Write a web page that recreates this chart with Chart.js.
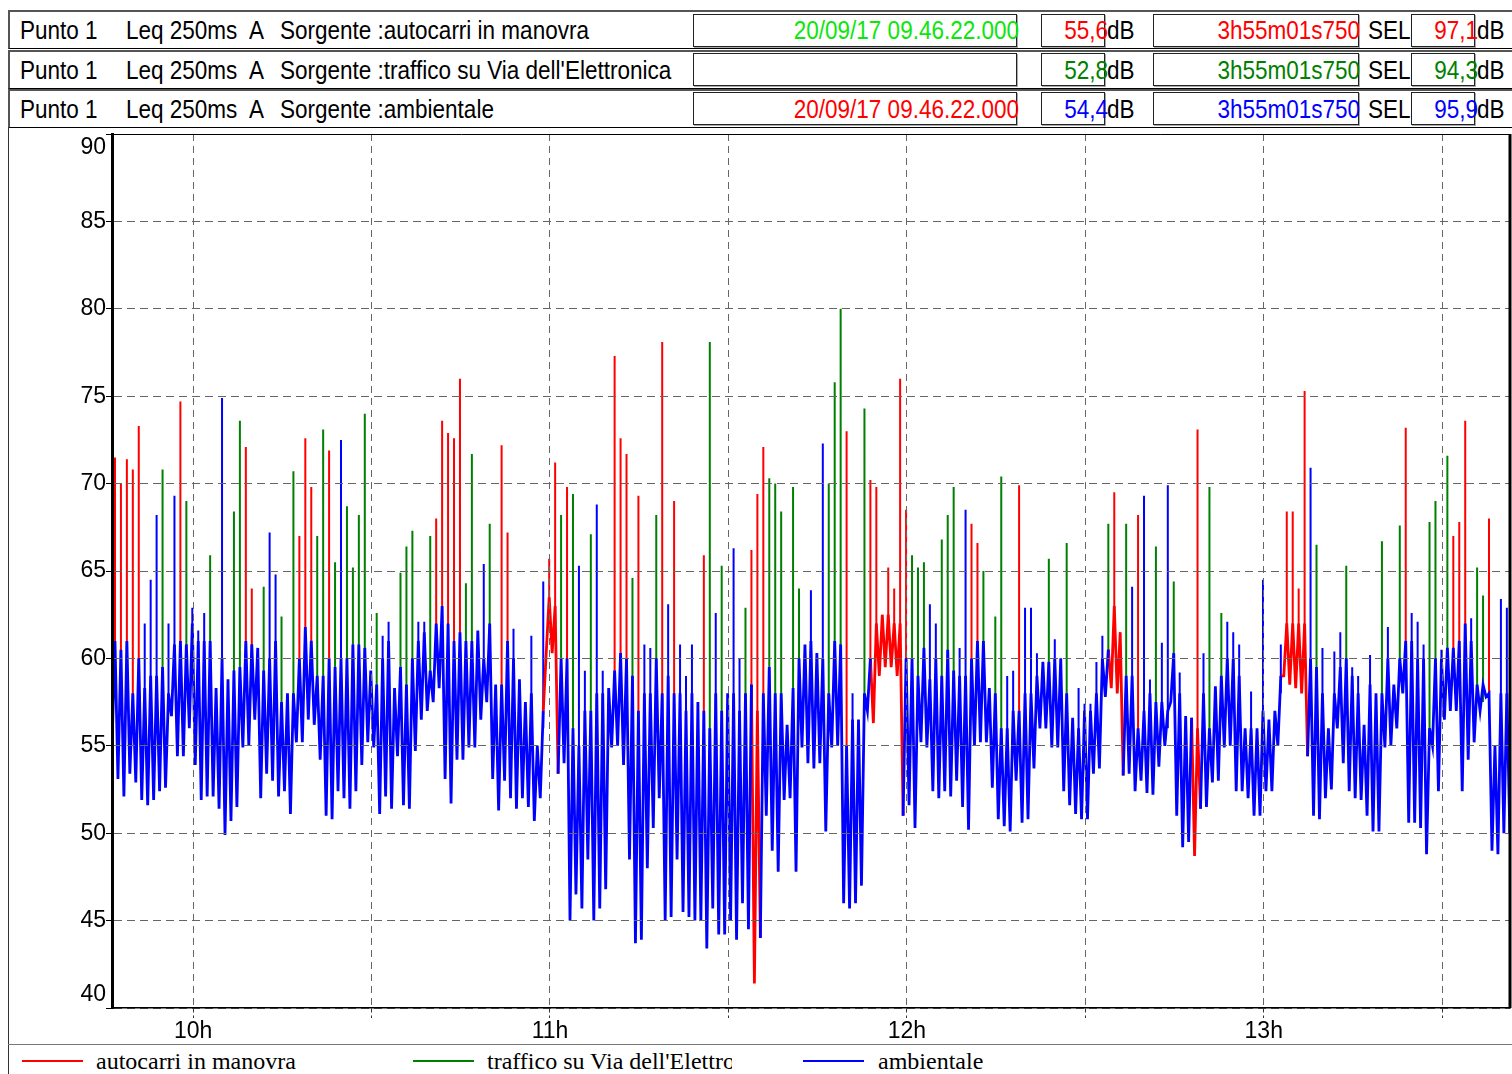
<!DOCTYPE html>
<html lang="it">
<head>
<meta charset="utf-8">
<title>Punto 1 - Leq 250ms A</title>
<script src="https://cdn.jsdelivr.net/npm/chart.js@4.4.1/dist/chart.umd.min.js"></script>
<style>
  html, body { margin: 0; padding: 0; background: #fff; }
  body { width: 1512px; height: 1074px; position: relative; overflow: hidden;
         font-family: "Liberation Sans", Arial, sans-serif; }
  .row { position: absolute; left: 8px; width: 1504px; height: 39px; box-sizing: border-box;
         border-top: 2px solid #555; border-left: 2px solid #555; border-bottom: 1px solid #000; }
  .box { position: absolute; height: 33px; box-sizing: border-box; border: 1px solid #222;
         box-shadow: 1px 1px 0 #aaa; }
  .txt { position: absolute; font-size: 25px; line-height: 28px; white-space: pre; color: #000;
         transform: scaleX(0.9); transform-origin: left center; }
  .r { text-align: right; transform-origin: right center; }
  #plot { position: absolute; left: 8px; top: 128px; width: 1504px; height: 916px; }
  #sideLine { position: absolute; left: 8px; top: 128px; width: 0; height: 946px; border-left: 1px solid #333; }
  #legend { position: absolute; left: 8px; top: 1044px; width: 1504px; height: 30px;
            border-top: 1px solid #777; font-family: "Liberation Serif", "Times New Roman", serif; }
  .key { position: absolute; top: 15px; width: 61px; height: 0; border-top: 2px solid; }
  .lab { position: absolute; top: 2px; font-size: 24px; line-height: 28px; white-space: nowrap; overflow: hidden; }
</style>
</head>
<body>

<!-- header rows -->
<div class="row" style="top:10px"></div>
<div class="row" style="top:50px"></div>
<div class="row" style="top:89px"></div>

<div class="box" style="left:693px; top:14px; width:324px"></div>
<div class="box" style="left:1041px; top:14px; width:64px"></div>
<div class="box" style="left:1153px; top:14px; width:206px"></div>
<div class="box" style="left:1411px; top:14px; width:64px"></div>
<div class="box" style="left:693px; top:53px; width:324px"></div>
<div class="box" style="left:1041px; top:53px; width:64px"></div>
<div class="box" style="left:1153px; top:53px; width:206px"></div>
<div class="box" style="left:1411px; top:53px; width:64px"></div>
<div class="box" style="left:693px; top:92px; width:324px"></div>
<div class="box" style="left:1041px; top:92px; width:64px"></div>
<div class="box" style="left:1153px; top:92px; width:206px"></div>
<div class="box" style="left:1411px; top:92px; width:64px"></div>

<div class="txt" style="left:20px; top:16px">Punto 1</div>
<div class="txt" style="left:126px; top:16px">Leq 250ms</div>
<div class="txt" style="left:249px; top:16px">A</div>
<div class="txt" style="left:280px; top:16px">Sorgente :autocarri in manovra</div>
<div class="txt r" style="left:719px; width:300px; top:16px; color:#0be60b">20/09/17 09.46.22.000</div>
<div class="txt r" style="left:1008px; width:100px; top:16px; color:#ff0000">55,6</div>
<div class="txt" style="left:1107px; top:16px">dB</div>
<div class="txt r" style="left:1160px; width:200px; top:16px; color:#ff0000">3h55m01s750</div>
<div class="txt" style="left:1368px; top:16px">SEL</div>
<div class="txt r" style="left:1378px; width:100px; top:16px; color:#ff0000">97,1</div>
<div class="txt" style="left:1477px; top:16px">dB</div>

<div class="txt" style="left:20px; top:56px">Punto 1</div>
<div class="txt" style="left:126px; top:56px">Leq 250ms</div>
<div class="txt" style="left:249px; top:56px">A</div>
<div class="txt" style="left:280px; top:56px">Sorgente :traffico su Via dell'Elettronica</div>
<div class="txt r" style="left:1008px; width:100px; top:56px; color:#008000">52,8</div>
<div class="txt" style="left:1107px; top:56px">dB</div>
<div class="txt r" style="left:1160px; width:200px; top:56px; color:#008000">3h55m01s750</div>
<div class="txt" style="left:1368px; top:56px">SEL</div>
<div class="txt r" style="left:1378px; width:100px; top:56px; color:#008000">94,3</div>
<div class="txt" style="left:1477px; top:56px">dB</div>

<div class="txt" style="left:20px; top:95px">Punto 1</div>
<div class="txt" style="left:126px; top:95px">Leq 250ms</div>
<div class="txt" style="left:249px; top:95px">A</div>
<div class="txt" style="left:280px; top:95px">Sorgente :ambientale</div>
<div class="txt r" style="left:719px; width:300px; top:95px; color:#ff0000">20/09/17 09.46.22.000</div>
<div class="txt r" style="left:1008px; width:100px; top:95px; color:#0000ff">54,4</div>
<div class="txt" style="left:1107px; top:95px">dB</div>
<div class="txt r" style="left:1160px; width:200px; top:95px; color:#0000ff">3h55m01s750</div>
<div class="txt" style="left:1368px; top:95px">SEL</div>
<div class="txt r" style="left:1378px; width:100px; top:95px; color:#0000ff">95,9</div>
<div class="txt" style="left:1477px; top:95px">dB</div>

<div id="sideLine"></div>
<div id="plot"><canvas id="levelChart"></canvas></div>

<div id="legend">
  <div class="key" style="left:14px; border-color:#ff0000"></div>
  <div class="lab" style="left:88px">autocarri in manovra</div>
  <div class="key" style="left:405px; border-color:#008000"></div>
  <div class="lab" style="left:479px; width:245px">traffico su Via dell'Elettronica</div>
  <div class="key" style="left:795px; border-color:#0000ff"></div>
  <div class="lab" style="left:870px">ambientale</div>
</div>

<script>
// Leq 250ms read per minute from 09:46:22: lowest value, top of the dense band, and the peak
const bandLow = [
  55, 53.1, 52.1, 53.4, 52.9, 51.9, 51.6, 51.9, 52.4, 52.6,
  56.7, 54.4, 54.4, 56, 53.9, 51.9, 52.1, 52.1, 51.4, 49.9,
  50.7, 51.5, 54.9, 55, 56.5, 52, 53.4, 53, 52.1, 52.4,
  51.1, 55.2, 55.2, 56.5,
  56.2, 54.2, 51, 50.8, 52.4, 52, 51.4, 52.4, 53.9, 55.2,
  54.9, 51.1, 52.1, 51.4, 54.4, 51.6, 51.4, 54.7, 56.5, 57,
  57.5, 58.3, 53.1, 51.7, 54.2, 54.2, 54.9, 54.9, 56.5, 57.5,
  53.1, 51.3, 53,
  52, 51.4, 52, 51.5, 50.7, 52, 60.3, 60.3, 53.4, 54,
  45, 46.5, 45.7, 48.5, 45, 45.7, 46.8, 54.9, 55, 53.9,
  48.5, 43.7, 43.9, 48, 50.3, 52, 45, 45.2, 48.5, 45.5,
  45.2, 45, 45, 43.4,
  45.7, 44.2, 44.2, 45, 43.9, 46, 44.5, 41.4, 44, 51,
  49, 47.8, 51.9, 52, 47.8, 54.9, 54, 53.7, 54, 50.1,
  54.9, 55, 46, 45.7, 46, 47, 57, 56.3, 59, 59.5,
  59.5, 59, 51, 51.6,
  50.3, 55.2, 54.9, 52.4, 52, 52.4, 52.1, 53, 51.5, 50.2,
  55, 55.2, 55.2, 52.6, 50.8, 50.4, 50.1, 53, 50.6, 50.8,
  53.7, 56, 56, 54.9, 54.9, 52.4, 51.6, 51.1, 50.8, 50.8,
  53.4, 53.7, 57.8,
  58.3, 58, 53.3, 53.4, 52.4, 53, 52.3, 52.2, 53.8, 55,
  57.5, 51, 49.2, 49.5, 48.7, 51.4, 51.5, 52.9, 53, 54.9,
  55, 52.4, 52.4, 52, 51, 51, 52.4, 52.4, 55, 59,
  58.5, 58.3, 58, 54.4,
  51, 50.8, 52, 52.5, 56, 54, 52.4, 52, 51.9, 51,
  50.1, 50.1, 54.9, 55, 56, 58, 50.6, 50.6, 50.3, 48.8,
  55, 52.4, 56.5, 57, 57, 52.4, 54.2, 55.2, 57, 57.8,
  49, 48.8, 50, 50
];

const bandTop = [
  61, 60.5, 61, 58, 60, 58.3, 59, 59, 59.5, 58,
  60.8, 61, 60.8, 62, 61, 61, 61, 58.3, 60, 58.8,
  59.3, 59.5, 61, 60.8, 60.6, 59.3, 60, 61, 57.5, 58,
  58, 60, 61.8, 61,
  59, 59, 60, 59.5, 60, 60, 60.8, 60.8, 60.6, 59.3,
  58.5, 60, 61, 58.3, 59.5, 58.5, 60, 61, 61.5, 59.3,
  62, 63, 62, 61, 61.5, 61, 61, 61.6, 60, 62,
  58.5, 58.5, 61,
  60, 58.8, 57.5, 58, 55, 57, 63.5, 63, 60, 60,
  56, 55, 57, 57, 58, 58, 58.3, 59.3, 60.3, 60,
  59, 57, 58, 58, 60, 58, 59, 58, 58, 57,
  58, 57.5, 57, 56,
  58, 57, 58, 58, 57, 58, 58.5, 57, 58, 59.5,
  58, 58, 56.2, 58.3, 60, 60.8, 61, 60.3, 60, 58,
  61, 60.8, 55, 56.5, 56.5, 58, 60, 62, 62.5, 62.5,
  62, 62, 60, 60,
  59, 60.6, 58.8, 60, 59, 60.5, 59.3, 59, 59, 60,
  61, 61, 58.3, 58, 56, 56, 57, 57, 58, 58,
  59, 59.8, 59.8, 60, 60, 58, 56.6, 56, 57, 57,
  58, 60, 60.5,
  63, 61.5, 59, 59, 56, 57, 58, 57.5, 57.5, 57,
  60.3, 58, 56.7, 56.6, 56, 58, 56, 58.4, 59, 60,
  60, 59, 56, 56, 56, 57, 56.5, 57, 59, 62,
  62, 62, 62, 60,
  59.5, 58, 56, 58, 59.5, 60, 59, 58, 56.2, 58.5,
  58, 58, 60, 58.5, 60, 61, 61, 60, 60, 56,
  60, 60, 60.6, 60.6, 61, 62, 61, 58.5, 58.5, 58,
  55, 58, 58, 59
];

const peakLevel = [
  71.5, 70, 71.4, 70.8, 73.3, 62, 64.5, 68.2, 70.8, 62,
  69.3, 74.7, 69, 62.9, 61.6, 62.6, 65.9, 58.3, 74.9, 58.8,
  68.4, 73.6, 72.1, 64, 60.6, 64.1, 67.2, 64.8, 62.4, 58,
  70.7, 67, 72.6, 69.8,
  67, 73.1, 71.9, 65.5, 72.5, 68.7, 65.2, 68.2, 74, 59.3,
  62.6, 61.3, 62.1, 58.3, 64.9, 66.4, 67.3, 62.1, 62.1, 67,
  68, 73.6, 72.9, 72.6, 76, 64.3, 71.7, 61.6, 65.4, 67.7,
  58.5, 72.2, 67.2,
  61.7, 58.8, 57.5, 61.3, 55, 64.4, 65.7, 71.2, 68.2, 69.8,
  69.4, 65.3, 59.3, 67.1, 68.8, 59.3, 58.3, 77.3, 72.6, 71.7,
  64.6, 69.3, 60.8, 60.6, 68.2, 78.1, 63.1, 69, 60.8, 59,
  60.8, 57.5, 65.9, 78.1,
  62.6, 65.3, 58, 66.3, 60, 62.9, 66.2, 69.4, 72.1, 70.3,
  70, 68.4, 56.2, 69.8, 64, 60.8, 63.9, 60.3, 72.3, 70,
  75.8, 80, 73, 58, 56.5, 74.3, 70.2, 69.8, 62.5, 65.2,
  64, 76, 68.5, 65.9,
  65.2, 65.5, 63.1, 62, 66.8, 68.2, 69.8, 60.6, 68.5, 67.7,
  66.6, 65, 58.3, 62.4, 70.4, 59, 59.3, 69.9, 62.9, 62.9,
  60.3, 59.8, 65.7, 61.1, 60, 66.6, 56.6, 58.3, 57.4, 57.4,
  59.8, 61.3, 67.7,
  69.5, 61.5, 67.7, 64.1, 68.2, 69.3, 58.8, 66.4, 60.9, 69.9,
  64.4, 59.2, 56.7, 56.6, 73.1, 60.3, 69.8, 58.4, 62.6, 62.1,
  61.5, 60.8, 56, 58.1, 56, 64.5, 56.5, 57, 60.8, 68.4,
  68.4, 64, 75.3, 70.9,
  66.5, 60.6, 56, 60.4, 61.5, 65.3, 59.5, 59, 56.2, 60.2,
  58, 66.7, 61.8, 58.5, 67.6, 73.2, 62.6, 62.1, 60.8, 67.8,
  69, 60.5, 71.6, 67, 67.8, 73.6, 62.3, 65.2, 63.6, 68,
  55, 63.4, 62.9, 62
];

// source of each minute's peak: b = ambientale, g = traffico, r = autocarri,
// R = whole minute inside an "autocarri in manovra" stretch
const peakSource = (
  'rrrrrbbbgb' + 'brgbbbgbbb' + 'ggrrbgbbgb' + 'grrr' +
  'ggrgbggggb' + 'gbbbgggbbg' + 'rrrrrggbbg' + 'brr' +
  'bbbbbbRRgr' + 'gbbgbbbrrr' + 'grbbgrbrbb' + 'bbrg' +
  'bgbbbgrRrg' + 'ggbggbbbbg' + 'ggrbbgrRRR' + 'RRrg' +
  'ggbbgggbbr' + 'rgbggbbrbb' + 'bbgbbgbbbb' + 'bbg' +
  'RRgbrbbgbb' + 'gbbbRbgbgb' + 'bbbbbbbbbR' + 'RRRb' +
  'gbbbbgbbbb' + 'bgbbgrbbbg' + 'gbgrrrbggr' + 'bbbb'
).split('');

const hourTicks = [10, 10.5, 11, 11.5, 12, 12.5, 13, 13.5];
const levelTicks = [40, 45, 50, 55, 60, 65, 70, 75, 80, 85, 90];

const START_H = 9 + 46 / 60 + 22 / 3600;
const END_H = START_H + (3 * 3600 + 55 * 60 + 1.75) / 3600;
const minuteAt = m => START_H + m / 60;

// dense band: low at the start of the minute, band top half a minute later
function bandSeries(red) {
  const pts = [];
  bandLow.forEach((lo, i) => {
    pts.push({ x: minuteAt(i), y: lo, r: peakSource[i] === 'R' });
    pts.push({ x: minuteAt(i + 0.5), y: bandTop[i], r: peakSource[i] === 'R' });
  });
  return pts.map((p, k) => {
    let keep = p.r === red;
    if (!keep && red) {
      keep = (pts[k - 1] && pts[k - 1].r) || (pts[k + 1] && pts[k + 1].r);
    }
    return { x: p.x, y: keep ? p.y : null };
  });
}

// peaks: a vertical stroke from the band top up to the peak, in the colour of its source
function peakSeries(code) {
  const pts = [];
  peakLevel.forEach((pk, i) => {
    const src = peakSource[i] === 'R' ? 'r' : peakSource[i];
    if (src !== code || pk <= bandTop[i]) return;
    const x = minuteAt(i + 0.5);
    pts.push({ x, y: bandTop[i] - 1 }, { x, y: pk }, { x, y: null });
  });
  return pts;
}

const frame = {
  id: 'frame',
  afterDraw(chart) {
    const { ctx, chartArea: a } = chart;
    ctx.save();
    ctx.strokeStyle = '#000';
    ctx.lineWidth = 1;
    ctx.beginPath();
    ctx.moveTo(a.left, a.top + 0.5);
    ctx.lineTo(a.right, a.top + 0.5);
    ctx.stroke();
    ctx.lineWidth = 3;
    ctx.beginPath();
    ctx.moveTo(a.right, a.top);
    ctx.lineTo(a.right, a.bottom);
    ctx.stroke();
    ctx.restore();
  }
};

const lineStyle = { pointRadius: 0, tension: 0, spanGaps: false, fill: false };

new Chart(document.getElementById('levelChart'), {
  type: 'line',
  data: {
    datasets: [
      { label: 'ambientale', data: bandSeries(false), borderColor: '#0000ff', borderWidth: 2.8, ...lineStyle },
      { label: 'autocarri in manovra', data: bandSeries(true), borderColor: '#ff0000', borderWidth: 2.8, ...lineStyle },
      { label: 'ambientale picchi', data: peakSeries('b'), borderColor: '#0000ff', borderWidth: 2, ...lineStyle },
      { label: "traffico su Via dell'Elettronica", data: peakSeries('g'), borderColor: '#008000', borderWidth: 2, ...lineStyle },
      { label: 'autocarri picchi', data: peakSeries('r'), borderColor: '#ff0000', borderWidth: 2, ...lineStyle }
    ]
  },
  options: {
    responsive: true,
    maintainAspectRatio: false,
    animation: false,
    layout: { padding: { top: 6, right: 2, left: 0, bottom: 0 } },
    plugins: { legend: { display: false }, tooltip: { enabled: false } },
    scales: {
      x: {
        type: 'linear',
        min: START_H,
        max: END_H,
        afterBuildTicks: s => { s.ticks = hourTicks.map(v => ({ value: v })); },
        afterFit: s => { s.height = 36; s.paddingLeft = 0; s.paddingRight = 0; },
        ticks: {
          autoSkip: false,
          maxRotation: 0,
          padding: 0,
          color: '#000',
          font: { family: 'Liberation Sans', size: 23 },
          callback: v => Number.isInteger(v) ? v + 'h' : ''
        },
        grid: { color: '#666', lineWidth: 1, tickLength: 10, tickColor: '#333', tickBorderDash: [4, 3], z: 1 },
        border: { color: '#000', width: 1.5, dash: [7, 5], z: 2 }
      },
      y: {
        min: 40,
        max: 90,
        afterBuildTicks: s => { s.ticks = levelTicks.map(v => ({ value: v })); },
        afterFit: s => { s.width = 104; s.paddingTop = 0; s.paddingBottom = 0; },
        ticks: {
          padding: 0,
          color: '#000',
          font: { family: 'Liberation Sans', size: 23 },
          callback: v => v === 90 ? ['', '90'] : v === 40 ? ['40', ''] : String(v)
        },
        grid: { color: '#666', lineWidth: 1, tickLength: 6, tickColor: '#000', z: 1 },
        border: { color: '#000', width: 3, dash: [8, 5], z: 2 }
      }
    }
  },
  plugins: [frame]
});
</script>
</body>
</html>
